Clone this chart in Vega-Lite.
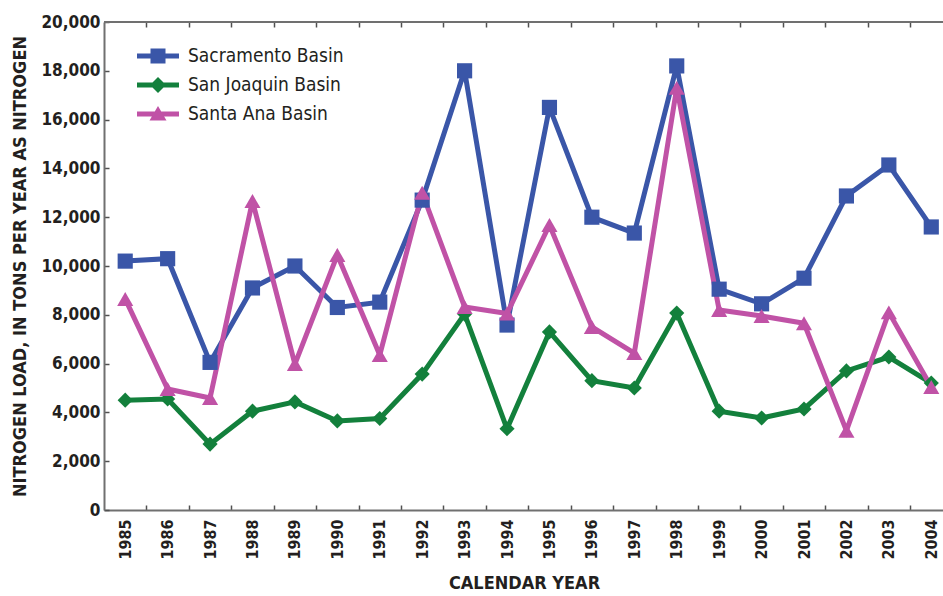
{
  "$schema": "https://vega.github.io/schema/vega-lite/v6.json",
  "autosize": {"type": "none"},
  "padding": {"left": 104, "top": 22, "right": 0, "bottom": 86},
  "width": 840,
  "height": 488,
  "background": "white",
  "config": {
    "view": {"stroke": null},
    "font": "DejaVu Sans Condensed",
    "axis": {
      "grid": false,
      "domainColor": "#707070",
      "domainWidth": 2,
      "tickColor": "#505050",
      "tickWidth": 1.5,
      "labelColor": "#231f20",
      "titleColor": "#231f20",
      "labelFont": "DejaVu Sans Condensed",
      "titleFont": "DejaVu Sans Condensed",
      "labelFontWeight": "bold",
      "titleFontWeight": "bold"
    }
  },
  "data": {
    "values": [
      {"year": 1985, "basin": "Sacramento Basin", "load": 10200},
      {"year": 1986, "basin": "Sacramento Basin", "load": 10300},
      {"year": 1987, "basin": "Sacramento Basin", "load": 6050},
      {"year": 1988, "basin": "Sacramento Basin", "load": 9100},
      {"year": 1989, "basin": "Sacramento Basin", "load": 10000},
      {"year": 1990, "basin": "Sacramento Basin", "load": 8300},
      {"year": 1991, "basin": "Sacramento Basin", "load": 8520},
      {"year": 1992, "basin": "Sacramento Basin", "load": 12700},
      {"year": 1993, "basin": "Sacramento Basin", "load": 18000},
      {"year": 1994, "basin": "Sacramento Basin", "load": 7580},
      {"year": 1995, "basin": "Sacramento Basin", "load": 16500},
      {"year": 1996, "basin": "Sacramento Basin", "load": 12000},
      {"year": 1997, "basin": "Sacramento Basin", "load": 11350},
      {"year": 1998, "basin": "Sacramento Basin", "load": 18200},
      {"year": 1999, "basin": "Sacramento Basin", "load": 9050},
      {"year": 2000, "basin": "Sacramento Basin", "load": 8450},
      {"year": 2001, "basin": "Sacramento Basin", "load": 9500},
      {"year": 2002, "basin": "Sacramento Basin", "load": 12870},
      {"year": 2003, "basin": "Sacramento Basin", "load": 14140},
      {"year": 2004, "basin": "Sacramento Basin", "load": 11600},
      {"year": 1985, "basin": "San Joaquin Basin", "load": 4500},
      {"year": 1986, "basin": "San Joaquin Basin", "load": 4550},
      {"year": 1987, "basin": "San Joaquin Basin", "load": 2700},
      {"year": 1988, "basin": "San Joaquin Basin", "load": 4050},
      {"year": 1989, "basin": "San Joaquin Basin", "load": 4430},
      {"year": 1990, "basin": "San Joaquin Basin", "load": 3650},
      {"year": 1991, "basin": "San Joaquin Basin", "load": 3750},
      {"year": 1992, "basin": "San Joaquin Basin", "load": 5570},
      {"year": 1993, "basin": "San Joaquin Basin", "load": 8030},
      {"year": 1994, "basin": "San Joaquin Basin", "load": 3330},
      {"year": 1995, "basin": "San Joaquin Basin", "load": 7300},
      {"year": 1996, "basin": "San Joaquin Basin", "load": 5300},
      {"year": 1997, "basin": "San Joaquin Basin", "load": 5000},
      {"year": 1998, "basin": "San Joaquin Basin", "load": 8070},
      {"year": 1999, "basin": "San Joaquin Basin", "load": 4050},
      {"year": 2000, "basin": "San Joaquin Basin", "load": 3770},
      {"year": 2001, "basin": "San Joaquin Basin", "load": 4140},
      {"year": 2002, "basin": "San Joaquin Basin", "load": 5700},
      {"year": 2003, "basin": "San Joaquin Basin", "load": 6270},
      {"year": 2004, "basin": "San Joaquin Basin", "load": 5200},
      {"year": 1985, "basin": "Santa Ana Basin", "load": 8650},
      {"year": 1986, "basin": "Santa Ana Basin", "load": 4960},
      {"year": 1987, "basin": "Santa Ana Basin", "load": 4590},
      {"year": 1988, "basin": "Santa Ana Basin", "load": 12660},
      {"year": 1989, "basin": "Santa Ana Basin", "load": 5980},
      {"year": 1990, "basin": "Santa Ana Basin", "load": 10450},
      {"year": 1991, "basin": "Santa Ana Basin", "load": 6350},
      {"year": 1992, "basin": "Santa Ana Basin", "load": 13000},
      {"year": 1993, "basin": "Santa Ana Basin", "load": 8320},
      {"year": 1994, "basin": "Santa Ana Basin", "load": 8050},
      {"year": 1995, "basin": "Santa Ana Basin", "load": 11680},
      {"year": 1996, "basin": "Santa Ana Basin", "load": 7500},
      {"year": 1997, "basin": "Santa Ana Basin", "load": 6430},
      {"year": 1998, "basin": "Santa Ana Basin", "load": 17300},
      {"year": 1999, "basin": "Santa Ana Basin", "load": 8200},
      {"year": 2000, "basin": "Santa Ana Basin", "load": 7950},
      {"year": 2001, "basin": "Santa Ana Basin", "load": 7650},
      {"year": 2002, "basin": "Santa Ana Basin", "load": 3250},
      {"year": 2003, "basin": "Santa Ana Basin", "load": 8100},
      {"year": 2004, "basin": "Santa Ana Basin", "load": 5040}
    ]
  },
  "encoding": {
    "y": {"field": "load", "type": "quantitative"}
  },
  "layer": [
    {
      "mark": {"type": "line", "strokeWidth": 5, "strokeJoin": "miter", "strokeMiterLimit": 3},
      "encoding": {
        "x": {
          "field": "year", "type": "quantitative",
          "scale": {"domain": [1984.5, 2004.3], "nice": false, "zero": false},
          "axis": {
            "orient": "bottom",
            "title": "CALENDAR YEAR",
            "titleFontSize": 18,
            "titlePadding": 15,
            "values": [1985,1986,1987,1988,1989,1990,1991,1992,1993,1994,1995,1996,1997,1998,1999,2000,2001,2002,2003,2004],
            "format": "d",
            "labelAngle": -90,
            "labelAlign": "right",
            "labelBaseline": "middle",
            "labelFontSize": 16,
            "labelPadding": 14,
            "tickSize": -5,
            "tickOffset": 21.2,
            "labelOffset": -21.2,
            "labelFlush": false,
            "labelOverlap": false
          }
        },
        "y": {
          "field": "load", "type": "quantitative",
          "scale": {"domain": [0, 20000], "nice": false},
          "axis": {
            "title": "NITROGEN LOAD, IN TONS PER YEAR AS NITROGEN",
            "titleFontSize": 18,
            "titlePadding": 11,
            "values": [0,2000,4000,6000,8000,10000,12000,14000,16000,18000,20000],
            "format": ",d",
            "labelFontSize": 17,
            "labelPadding": 9,
            "tickSize": -5
          }
        },
        "color": {
          "field": "basin", "type": "nominal",
          "scale": {"domain": ["Sacramento Basin", "San Joaquin Basin", "Santa Ana Basin"], "range": ["#3a56a8", "#13803c", "#c052a6"]},
          "legend": {
            "orient": "none",
            "legendX": 44,
            "legendY": 24,
            "title": null,
            "symbolSize": 400,
            "labelFontSize": 19,
            "labelColor": "#231f20",
            "labelOffset": 20,
            "rowPadding": 9,
            "labelFont": "DejaVu Sans Condensed",
            "encode": {
              "symbols": {
                "update": {
                  "shape": {"signal": "datum.value == 'Sacramento Basin' ? 'M-2.1,-0.25H2.1V0.25H-2.1Z M-0.75,-0.75H0.75V0.75H-0.75Z' : datum.value == 'San Joaquin Basin' ? 'M-2.1,-0.25H2.1V0.25H-2.1Z M0,-0.8L0.8,0L0,0.8L-0.8,0Z' : 'M-2.1,-0.25H2.1V0.25H-2.1Z M0,-0.8L0.85,0.65L-0.85,0.65Z'"},
                  "fill": {"scale": "color", "field": "value"},
                  "strokeWidth": {"value": 0},
                  "opacity": {"value": 1}
                }
              }
            }
          }
        }
      }
    },
    {
      "mark": {"type": "rule", "color": "#707070", "strokeWidth": 2},
      "encoding": {
        "y": {"datum": 20000}
      }
    },
    {
      "transform": [{"filter": "datum.basin == 'Sacramento Basin'"}],
      "mark": {"type": "point", "shape": "square", "filled": true, "opacity": 1, "size": 230},
      "encoding": {
        "x": {
          "field": "year", "type": "quantitative",
          "axis": {
            "orient": "top",
            "title": null,
            "labels": false,
            "domain": false,
            "ticks": true,
            "tickColor": "#505050",
            "tickWidth": 1.5,
            "values": [1985,1986,1987,1988,1989,1990,1991,1992,1993,1994,1995,1996,1997,1998,1999,2000,2001,2002,2003],
            "tickSize": 5,
            "tickOffset": 21.2,
            "offset": -5
          }
        },
        "color": {"field": "basin", "type": "nominal", "legend": null}
      }
    },
    {
      "transform": [{"filter": "datum.basin == 'San Joaquin Basin'"}],
      "mark": {"type": "point", "shape": "diamond", "filled": true, "opacity": 1, "size": 230},
      "encoding": {
        "x": {"field": "year", "type": "quantitative", "axis": null},
        "color": {"field": "basin", "type": "nominal", "legend": null}
      }
    },
    {
      "transform": [{"filter": "datum.basin == 'Santa Ana Basin'"}],
      "mark": {"type": "point", "shape": "triangle-up", "filled": true, "opacity": 1, "size": 260},
      "encoding": {
        "x": {"field": "year", "type": "quantitative", "axis": null},
        "color": {"field": "basin", "type": "nominal", "legend": null}
      }
    }
  ],
  "resolve": {"axis": {"x": "independent"}}
}
